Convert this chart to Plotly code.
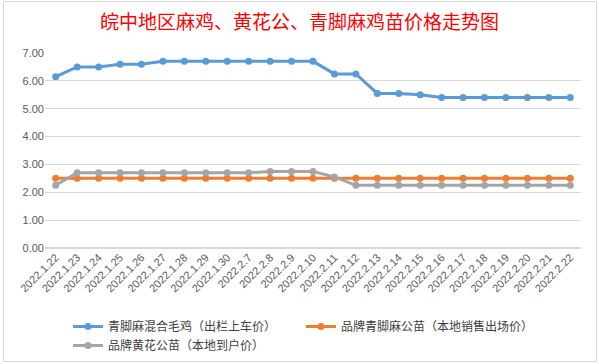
import plotly.graph_objects as go

dates = ["2022.1.22", "2022.1.23", "2022.1.24", "2022.1.25", "2022.1.26", "2022.1.27",
         "2022.1.28", "2022.1.29", "2022.1.30", "2022.2.7", "2022.2.8", "2022.2.9",
         "2022.2.10", "2022.2.11", "2022.2.12", "2022.2.13", "2022.2.14", "2022.2.15",
         "2022.2.16", "2022.2.17", "2022.2.18", "2022.2.19", "2022.2.20", "2022.2.21",
         "2022.2.22"]

mixed_chicken = [6.15, 6.5, 6.5, 6.6, 6.6, 6.7, 6.7, 6.7, 6.7, 6.7, 6.7, 6.7,
                 6.7, 6.25, 6.25, 5.55, 5.55, 5.5, 5.4, 5.4, 5.4, 5.4, 5.4, 5.4, 5.4]
brand_qingjiao = [2.5] * 25
brand_huanghua = [2.25, 2.7, 2.7, 2.7, 2.7, 2.7, 2.7, 2.7, 2.7, 2.7, 2.75, 2.75,
                  2.75, 2.55, 2.25, 2.25, 2.25, 2.25, 2.25, 2.25, 2.25, 2.25, 2.25, 2.25, 2.25]

series_names = ["青脚麻混合毛鸡（出栏上车价）", "品牌青脚麻公苗（本地销售出场价）", "品牌黄花公苗（本地到户价）"]
series_colors = ["#5B9BD5", "#ED7D31", "#A5A5A5"]
y_ticks = [0, 1, 2, 3, 4, 5, 6, 7]

W, H = 599, 364
L, R, T, B = 45, 18, 53, 116
PW, PH = W - L - R, H - T - B


def px(x):
    return (x - L) / PW


def py(y):
    return (H - B - y) / PH


fig = go.Figure()
for name, vals, col in zip(series_names, [mixed_chicken, brand_qingjiao, brand_huanghua], series_colors):
    fig.add_trace(go.Scatter(
        x=dates, y=vals, name=name, mode="lines+markers",
        line=dict(color=col, width=3),
        marker=dict(color=col, size=7),
    ))

fig.update_layout(
    width=W, height=H,
    margin=dict(l=L, r=R, t=T, b=B, autoexpand=False),
    paper_bgcolor="white", plot_bgcolor="white",
    title=dict(text="皖中地区麻鸡、黄花公、青脚麻鸡苗价格走势图",
               font=dict(family="Noto Sans CJK SC", size=19, color="#FF0000"),
               x=0.5, xanchor="center", y=1 - 22 / H, yanchor="middle"),
    font=dict(family="Noto Sans CJK SC", color="#595959"),
    showlegend=True,
    legend=dict(orientation="h", x=px(68), xanchor="left", y=py(312), yanchor="top",
                entrywidth=188, entrywidthmode="pixels",
                font=dict(size=12, color="#404040"),
                itemwidth=30, tracegroupgap=0, bgcolor="rgba(0,0,0,0)"),
    shapes=[dict(type="rect", xref="paper", yref="paper",
                 x0=px(3.5), x1=px(596.5), y0=py(361.5), y1=py(1.5),
                 line=dict(color="#D9D9D9", width=1))],
)

fig.update_xaxes(
    type="category", tickangle=-45, automargin=False, range=[-0.5, len(dates) - 0.5],
    tickfont=dict(family="Liberation Sans", size=11, color="#595959"),
    showgrid=False, showline=False, ticks="",
)
fig.update_yaxes(
    range=[0, 7], tickvals=y_ticks, tickformat=".2f", automargin=False,
    tickfont=dict(family="Liberation Sans", size=11, color="#595959"),
    showgrid=True, gridcolor="#D9D9D9", gridwidth=1,
    zeroline=True, zerolinecolor="#D9D9D9", showline=False, ticks="",
)

fig.write_html("out.html", config={"displayModeBar": False},
               post_script="document.body.style.margin='0';")
